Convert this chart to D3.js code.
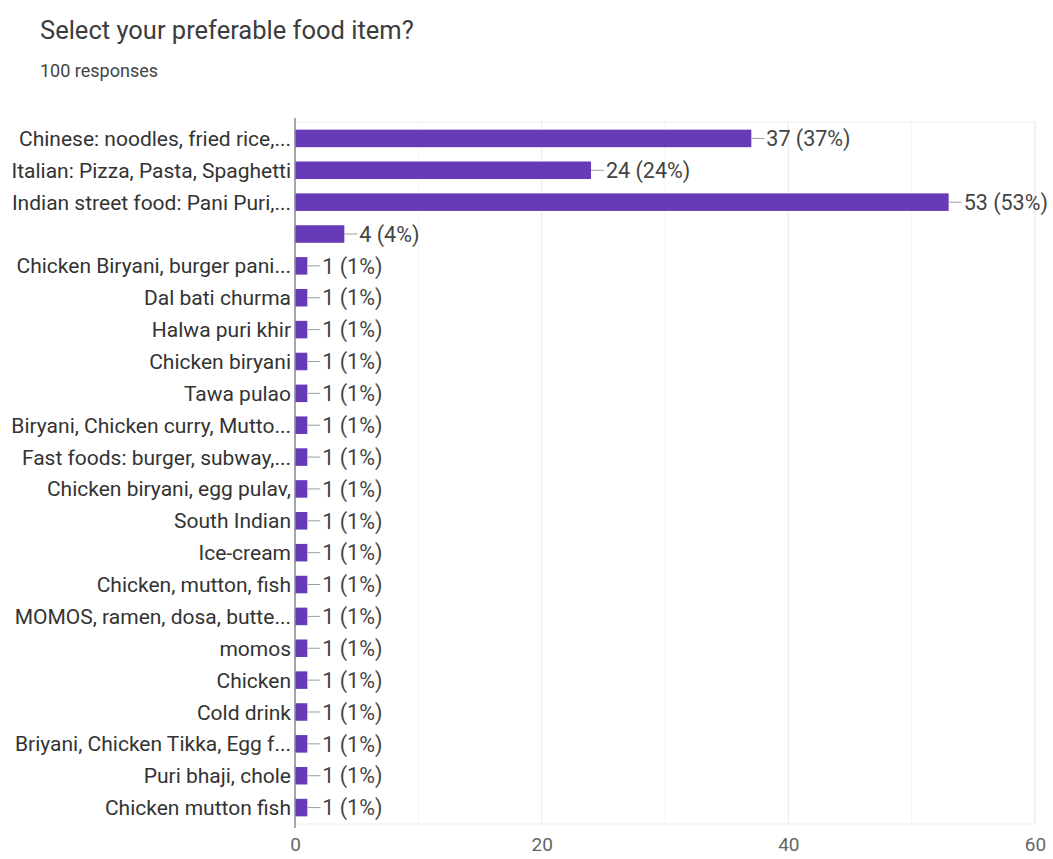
<!DOCTYPE html>
<html>
<head>
<meta charset="utf-8">
<script src="https://cdn.jsdelivr.net/npm/d3@7"></script>
<style>
  body { margin: 0; background: #fff; }
  svg { display: block; font-family: Roboto, Arial, sans-serif; }
</style>
</head>
<body>
<svg id="chart" width="1053" height="859"></svg>
<script>
// chart data
const categories = [
  "Chinese: noodles, fried rice,...",
  "Italian: Pizza, Pasta, Spaghetti",
  "Indian street food: Pani Puri,...",
  "",
  "Chicken Biryani, burger pani...",
  "Dal bati churma",
  "Halwa puri khir",
  "Chicken biryani",
  "Tawa pulao",
  "Biryani, Chicken curry, Mutto...",
  "Fast foods: burger, subway,...",
  "Chicken biryani, egg pulav,",
  "South Indian",
  "Ice-cream",
  "Chicken, mutton, fish",
  "MOMOS, ramen, dosa, butte...",
  "momos",
  "Chicken",
  "Cold drink",
  "Briyani, Chicken Tikka, Egg f...",
  "Puri bhaji, chole",
  "Chicken mutton fish"
];
const counts = [37, 24, 53, 4, 1, 1, 1, 1, 1, 1, 1, 1, 1, 1, 1, 1, 1, 1, 1, 1, 1, 1];
const totalResponses = 100;
const xTicks = [0, 20, 40, 60];
const xMinorTicks = [10, 30, 50];

const PURPLE = "#673ab7";

const svg = d3.select("#chart");
svg.selectAll("*").remove();

// title + response count
svg.append("text")
  .attr("x", 40).attr("y", 39)
  .attr("font-size", 25.5)
  .attr("fill", "#3c3c3c")
  .text("Select your preferable food item?");
svg.append("text")
  .attr("x", 40).attr("y", 77)
  .attr("font-size", 18)
  .attr("fill", "#444")
  .text(totalResponses + " responses");

const plotLeft = 295, plotRight = 1035, plotTop = 122, plotBottom = 824;

const x = d3.scaleLinear().domain([0, 60]).range([plotLeft, plotRight]);
const y = d3.scaleBand()
  .domain(d3.range(categories.length))
  .range([plotTop, plotBottom])
  .paddingInner(0.45)
  .paddingOuter(0.24);

// frame + gridlines
const grid = svg.append("g");
grid.append("rect")
  .attr("x", plotLeft).attr("y", plotTop)
  .attr("width", plotRight - plotLeft).attr("height", plotBottom - plotTop)
  .attr("fill", "none").attr("stroke", "#eeeeee");
grid.selectAll("line.major")
  .data(xTicks.slice(1))
  .join("line")
  .attr("x1", d => x(d)).attr("x2", d => x(d))
  .attr("y1", plotTop).attr("y2", plotBottom)
  .attr("stroke", "#eaeaea");
grid.selectAll("line.minor")
  .data(xMinorTicks)
  .join("line")
  .attr("x1", d => x(d)).attr("x2", d => x(d))
  .attr("y1", plotTop).attr("y2", plotBottom)
  .attr("stroke", "#f5f5f5");

// bars
const rows = svg.append("g").selectAll("g")
  .data(counts)
  .join("g")
  .attr("transform", (d, i) => `translate(0,${y(i)})`);

rows.append("rect")
  .attr("x", x(0))
  .attr("y", 0)
  .attr("width", d => x(d) - x(0))
  .attr("height", y.bandwidth())
  .attr("fill", PURPLE);

// little connector line + value label
rows.append("line")
  .attr("x1", d => x(d)).attr("x2", d => x(d) + 13)
  .attr("y1", y.bandwidth() / 2).attr("y2", y.bandwidth() / 2)
  .attr("stroke", "#9e9e9e");
rows.append("text")
  .attr("x", d => x(d) + 15)
  .attr("y", y.bandwidth() / 2)
  .attr("dy", "0.36em")
  .attr("font-size", 21.5)
  .attr("fill", "#444")
  .text(d => `${d} (${Math.round(d / totalResponses * 100)}%)`);

// category labels
rows.append("text")
  .attr("x", plotLeft - 4)
  .attr("y", y.bandwidth() / 2)
  .attr("dy", "0.36em")
  .attr("text-anchor", "end")
  .attr("font-size", 21)
  .attr("fill", "#333")
  .text((d, i) => categories[i]);

// zero axis line
svg.append("line")
  .attr("x1", x(0)).attr("x2", x(0))
  .attr("y1", plotTop - 4).attr("y2", plotBottom + 4)
  .attr("stroke", "#8a8a9a").attr("stroke-width", 1.5);

// x axis tick labels
const xAxis = d3.axisBottom(x).tickValues(xTicks).tickSize(0).tickPadding(14);
const ax = svg.append("g")
  .attr("transform", `translate(0,${plotBottom})`)
  .call(xAxis);
ax.select(".domain").remove();
ax.selectAll("text")
  .attr("font-size", 19)
  .attr("font-family", "Roboto, Arial, sans-serif")
  .attr("fill", "#666");
</script>
</body>
</html>
